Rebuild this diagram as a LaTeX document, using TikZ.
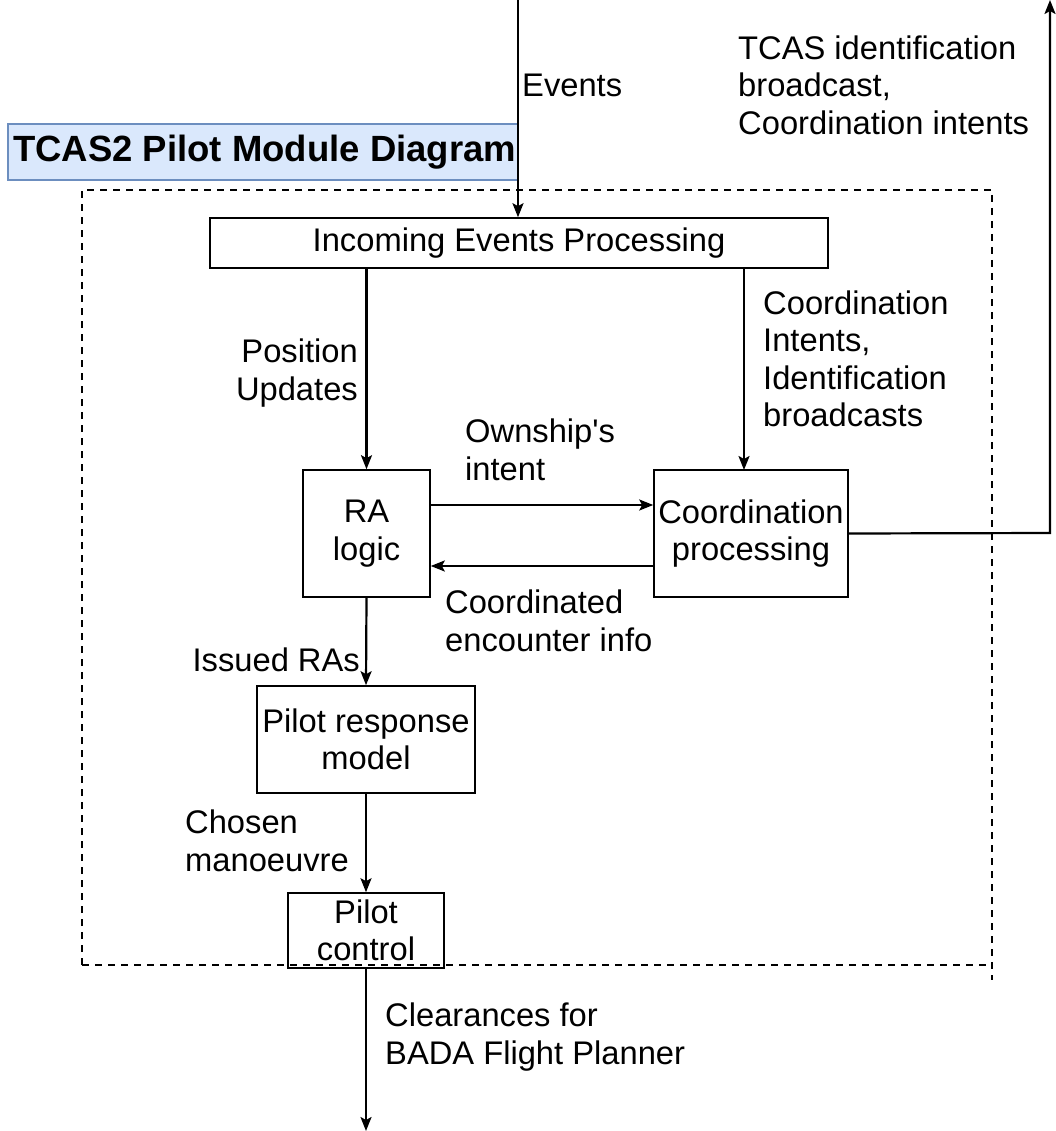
\documentclass[tikz,border=0pt]{standalone}
\usepackage{fontspec}
\setmainfont{Liberation Sans}
\usetikzlibrary{arrows.meta}
\definecolor{titlefill}{HTML}{DAE8FC}
\definecolor{titledraw}{HTML}{6C8EBF}
\begin{document}
\begin{tikzpicture}[x=1pt,y=-1pt,
  every node/.style={font=\fontsize{32.7}{37.5}\selectfont},
  box/.style={draw, line width=1.6pt, inner sep=0pt, align=center},
  lbl/.style={inner sep=0pt},
  tip/.style={-{Stealth[length=14pt,width=11pt,inset=3pt]}},
  conn/.style={line width=2.2pt, tip},
  frame/.style={line width=2.2pt, dash pattern=on 7pt off 6pt}]
\useasboundingbox (0,0) rectangle (1055,1131);
% title
\node[draw=titledraw, fill=titlefill, line width=1.2pt, minimum width=510pt, minimum height=56pt, inner sep=0pt] (title) at (263,152) {};
\node[lbl, anchor=west, font=\fontsize{36.5}{40}\selectfont\bfseries] (titletext) at (13,152) {TCAS2 Pilot Module Diagram};
% dashed frame
\coordinate (f1) at (82,190);
\coordinate (f2) at (992,190);
\coordinate (f3) at (992,980);
\coordinate (f4) at (82,965);
\coordinate (f5) at (992,965);
\draw[frame] (f4) -- (f1) -- (f2) -- (f3);
\draw[frame] (f4) -- (f5);
% nodes
\node[box, minimum width=618pt, minimum height=50pt] (iep) at (519,243) {Incoming Events Processing};
\node[box, minimum width=127pt, minimum height=127pt] (ra) at (366.5,533.5) {RA\\logic};
\node[box, minimum width=194pt, minimum height=127pt] (cp) at (751,533.5) {Coordination\\processing};
\node[box, minimum width=218pt, minimum height=107pt] (prm) at (366,739.5) {Pilot response\\model};
\node[box, minimum width=156pt, minimum height=75pt] (pc) at (366,930.5) {Pilot\\control};
% endpoints
\coordinate (evtop) at (518,0);
\coordinate (outcorner) at (1050,533);
\coordinate (outtop) at (1050,0);
\coordinate (bottom) at (366,1131);
% connectors
\draw[conn] (evtop) -- (evtop |- iep.north);
\draw[conn] (ra.north |- iep.south) -- (ra.north);
\draw[conn] (744,268) -- (744,470);
\draw[conn] (ra.east |- 0,505) -- (cp.west |- 0,505);
\draw[conn] (cp.west |- 0,566) -- (ra.east |- 0,566);
\draw[conn] (cp.east) -- (outcorner) -- (outtop);
\draw[conn] (ra.south) -- (prm.north);
\draw[conn] (prm.south) -- (pc.north);
\draw[conn] (pc.south) -- (bottom);
% labels
\node[lbl, anchor=west] (levents) at (522,85) {Events};
\node[lbl, anchor=west, align=left] (ltcas) at (738,85) {TCAS identification\\broadcast,\\Coordination intents};
\node[lbl, anchor=east, align=right] (lpos) at (358,373) {Position\\Updates};
\node[lbl, anchor=west, align=left] (lcoord) at (763,359) {Coordination\\Intents,\\Identification\\broadcasts};
\node[lbl, anchor=west, align=left] (lown) at (465,450) {Ownship\textquotesingle s\\intent};
\node[lbl, anchor=west, align=left] (lcenc) at (445,621) {Coordinated\\encounter info};
\node[lbl, anchor=east] (lissued) at (360,660) {Issued RAs};
\node[lbl, anchor=west, align=left] (lchosen) at (185,841) {Chosen\\manoeuvre};
\node[lbl, anchor=west, align=left] (lclear) at (385,1037) {Clearances for\\BADA Flight Planner};
\end{tikzpicture}
\end{document}
